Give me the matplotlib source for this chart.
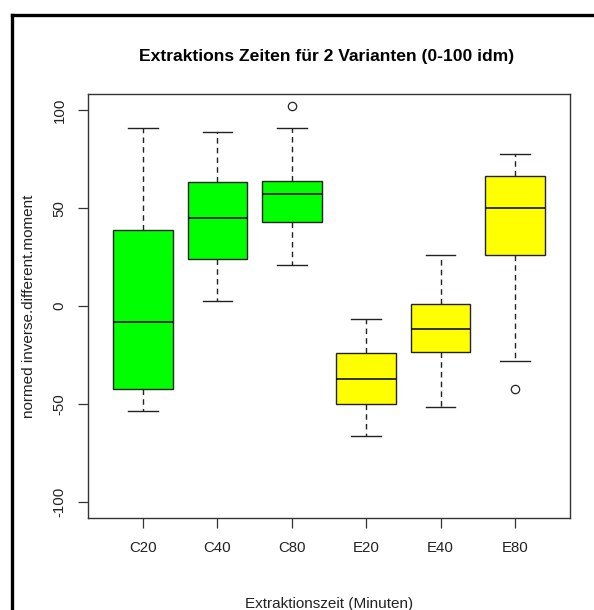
import matplotlib

matplotlib.use("Agg")
import matplotlib.pyplot as plt
from matplotlib.lines import Line2D

plt.rcParams["font.family"] = ["Liberation Sans", "DejaVu Sans"]
plt.rcParams["axes.unicode_minus"] = False

# Box statistics
groups = ["C20", "C40", "C80", "E20", "E40", "E80"]
whislo = [-53.8, 2.7, 20.9, -66.3, -51.4, -27.9]
q1 = [-42.2, 24.1, 43.0, -50.0, -23.3, 25.9]
med = [-8.3, 45.0, 57.0, -37.4, -11.6, 50.0]
q3 = [38.6, 63.3, 63.9, -24.0, 1.2, 66.4]
whishi = [91.0, 89.1, 91.0, -6.5, 25.9, 77.7]
fliers = [[], [], [102.4], [], [], [-42.3]]
colors = ["#00ff00", "#00ff00", "#00ff00", "#ffff00", "#ffff00", "#ffff00"]

stats = []
for i, g in enumerate(groups):
    stats.append(dict(label=g, whislo=whislo[i], q1=q1[i], med=med[i],
                      q3=q3[i], whishi=whishi[i], fliers=fliers[i]))

fig = plt.figure(figsize=(5.94, 6.10), dpi=100)
ax = fig.add_axes([88 / 594, 1 - 518 / 610, 482 / 594, 424 / 610])

positions = list(range(1, len(groups) + 1))
bp = ax.bxp(
    stats,
    positions=positions,
    widths=0.8,
    capwidths=0.4,
    patch_artist=True,
    boxprops=dict(edgecolor="#222222", linewidth=1.0),
    medianprops=dict(color="#111111", linewidth=1.2),
    whiskerprops=dict(color="#222222", linewidth=1.0, linestyle=(0, (4, 3))),
    capprops=dict(color="#222222", linewidth=1.0),
    flierprops=dict(marker="o", markersize=6, markerfacecolor="none",
                    markeredgecolor="#222222", markeredgewidth=0.9),
)
for patch, c in zip(bp["boxes"], colors):
    patch.set_facecolor(c)

ax.set_xlim(0.26, 6.74)
ax.set_ylim(-108.3, 108.3)
ax.set_yticks([-100, -50, 0, 50, 100])
ax.set_xticks(positions)
ax.set_xticklabels(groups)
for lab in ax.get_yticklabels():
    lab.set_rotation(90)
    lab.set_va("center")
ax.tick_params(axis="both", length=7.5, width=0.9, color="#333333",
               labelsize=10.8, labelcolor="#222222")
ax.tick_params(axis="x", pad=9)
ax.tick_params(axis="y", pad=8)
for sp in ax.spines.values():
    sp.set_color("#333333")
    sp.set_linewidth(1.0)

ax.set_xlabel("Extraktionszeit (Minuten)", fontsize=11, color="#222222", labelpad=30.5)
ax.set_ylabel("normed inverse.different.moment", fontsize=11, color="#222222", labelpad=12)
fig.text(327 / 594, 1 - 56 / 610, "Extraktions Zeiten für 2 Varianten (0-100 idm)",
         ha="center", va="center", fontsize=12.6, fontweight="bold")

# black frame remnants of the screenshot (top and left edge)
fig.add_artist(Line2D([11.5 / 594, 1.0], [1 - 14.5 / 610, 1 - 14.5 / 610],
                      transform=fig.transFigure, color="black", linewidth=2.4))
fig.add_artist(Line2D([11.5 / 594, 11.5 / 594], [1 - 14.5 / 610, 0.0],
                      transform=fig.transFigure, color="black", linewidth=2.4))

fig.savefig("out.png", dpi=100)
